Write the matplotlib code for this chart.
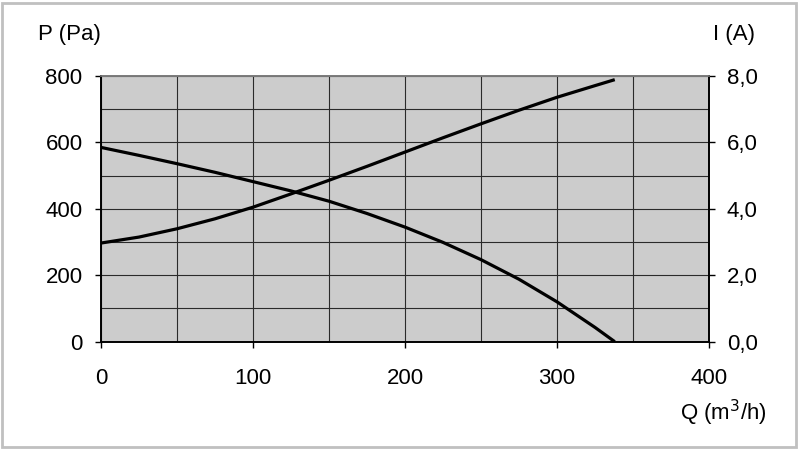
import matplotlib.pyplot as plt
from matplotlib.patches import Rectangle
from matplotlib.ticker import MultipleLocator, FuncFormatter

plt.rcParams['font.family'] = ['Liberation Sans', 'DejaVu Sans']

# Fan curve: flow Q (m3/h), pressure P (Pa), current I (A)
q_values = [0, 25, 50, 75, 100, 125, 150, 175, 200, 225, 250, 275, 300, 325, 338]
p_values = [585, 561, 536, 510, 482, 454, 423, 386, 345, 299, 247, 188, 120, 43, 0]
i_values = [2.97, 3.15, 3.40, 3.70, 4.05, 4.45, 4.86, 5.28, 5.71, 6.14, 6.56, 6.97, 7.36, 7.71, 7.89]

p_ticks = [0, 200, 400, 600, 800]
i_ticks = [0, 2, 4, 6, 8]
q_ticks = [0, 100, 200, 300, 400]

fig = plt.figure(figsize=(8, 4.5), dpi=100)
fig.patches.append(Rectangle((0.003, 0.006), 0.992, 0.988, transform=fig.transFigure,
                             fill=False, edgecolor='#c0c0c0', linewidth=2))

ax = fig.add_axes([0.12625, 0.2407, 0.76, 0.5904])
ax.set_facecolor('#cccccc')
ax.set_xlim(0, 400)
ax.set_ylim(0, 800)
ax.set_xticks(q_ticks)
ax.set_yticks(p_ticks)
ax.xaxis.set_minor_locator(MultipleLocator(50))
ax.yaxis.set_minor_locator(MultipleLocator(100))
ax.grid(which='both', color='#2a2a2a', linewidth=0.8)
ax.set_axisbelow(True)
ax.tick_params(which='minor', length=0)
ax.tick_params(which='major', direction='out', length=4.3, width=1, labelsize=16)
ax.tick_params(axis='y', pad=9)
ax.tick_params(axis='x', pad=14.5)

ax.plot(q_values, p_values, color='black', linewidth=2.3, solid_capstyle='butt', zorder=3)

ax2 = ax.twinx()
ax2.set_ylim(0, 8)
ax2.set_yticks(i_ticks)
ax2.yaxis.set_major_formatter(FuncFormatter(lambda v, pos: f'{v:.1f}'.replace('.', ',')))
ax2.tick_params(direction='out', length=4.3, width=1, labelsize=16, pad=8.5)
ax2.plot(q_values, i_values, color='black', linewidth=2.3, solid_capstyle='butt', zorder=3)

for a in (ax, ax2):
    for side in ('left', 'bottom', 'right'):
        a.spines[side].set_color('black')
        a.spines[side].set_linewidth(1.2)
    a.spines['top'].set_color('#7a7a7a')
    a.spines['top'].set_linewidth(1.2)

fig.text(0.087, 0.924, 'P (Pa)', fontsize=16, ha='center', va='center')
fig.text(0.918, 0.924, 'I (A)', fontsize=16, ha='center', va='center')
fig.text(0.958, 0.082, 'Q (m$^3$/h)', fontsize=16, ha='right', va='center')

fig.savefig('out.png', dpi=100)
